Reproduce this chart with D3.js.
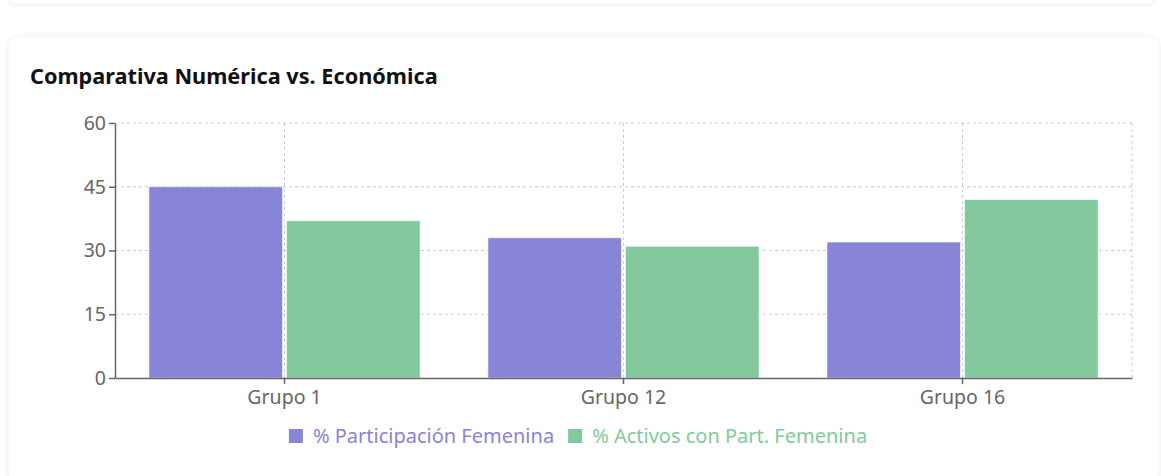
<!DOCTYPE html>
<html>
<head>
<meta charset="utf-8">
<script src="https://cdn.jsdelivr.net/npm/d3@7"></script>
<style>
  body { margin: 0; background: #fff; font-family: "Noto Sans", "Open Sans", sans-serif; }
  svg { display: block; }
</style>
</head>
<body>
<svg id="chart" width="1161" height="476"></svg>
<script>
var categories = ["Grupo 1", "Grupo 12", "Grupo 16"];
var seriesNames = ["% Participación Femenina", "% Activos con Part. Femenina"];
var participacion = [45, 33, 32];
var activos = [37, 31, 42];
var yTicks = [0, 15, 30, 45, 60];

var colors = ["#8884d8", "#82ca9d"];
var axis_color = "#666";
var grid_color = "#ccc";
var fontSize = 19.5;

var svg = d3.select("#chart");

// cards + shadow
var defs = svg.append("defs");
var f = defs.append("filter").attr("id", "shadow").attr("x", "-5%").attr("y", "-10%").attr("width", "110%").attr("height", "120%");
f.append("feDropShadow").attr("dx", 0).attr("dy", 1).attr("stdDeviation", 2).attr("flood-color", "#000").attr("flood-opacity", 0.08);

svg.append("rect")
    .attr("x", 8).attr("y", -40).attr("width", 1146).attr("height", 44)
    .attr("rx", 8).attr("fill", "#fff").attr("filter", "url(#shadow)");
svg.append("rect")
    .attr("x", 8).attr("y", 36).attr("width", 1151).attr("height", 446)
    .attr("rx", 10).attr("fill", "#fff").attr("stroke", "#f3f3f3").attr("filter", "url(#shadow)");

svg.append("text")
    .text("Comparativa Numérica vs. Económica")
    .attr("x", 30).attr("y", 84)
    .attr("font-size", 21.7)
    .attr("font-weight", "bold")
    .attr("fill", "#111");

// plot area
var margin_left = 115, margin_right = 1132, margin_top = 123, margin_bottom = 378;

var x0 = d3.scaleBand().domain(categories).range([margin_left, margin_right]).paddingInner(0).paddingOuter(0);
var y = d3.scaleLinear().domain([0, 60]).range([margin_bottom, margin_top]);

var bandW = x0.bandwidth();
var catGap = bandW * 0.1, barGap = 4;
var barW = (bandW - 2 * catGap - barGap) / 2;

// grid
var grid = svg.append("g");
yTicks.forEach(function(t){
    if(t == 0) return;
    grid.append("line")
        .attr("x1", margin_left).attr("x2", margin_right)
        .attr("y1", y(t)).attr("y2", y(t))
        .attr("stroke", grid_color).attr("stroke-dasharray", "3 3");
});
categories.forEach(function(c){
    var cx = x0(c) + bandW / 2;
    grid.append("line")
        .attr("x1", cx).attr("x2", cx)
        .attr("y1", margin_top).attr("y2", margin_bottom)
        .attr("stroke", grid_color).attr("stroke-dasharray", "3 3");
});
grid.append("line")
    .attr("x1", margin_right).attr("x2", margin_right)
    .attr("y1", margin_top).attr("y2", margin_bottom)
    .attr("stroke", grid_color).attr("stroke-dasharray", "3 3");

// bars
var series = [participacion, activos];
series.forEach(function(vals, s){
    svg.append("g").selectAll("rect")
        .data(vals)
        .enter()
        .append("rect")
        .attr("x", function(d, i){ return x0(categories[i]) + catGap + s * (barW + barGap); })
        .attr("y", function(d){ return y(d); })
        .attr("width", barW)
        .attr("height", function(d){ return margin_bottom - y(d); })
        .attr("fill", colors[s])
        .attr("stroke", "#fff")
        .attr("stroke-opacity", 0.6);
});

// axes
var yAxis = svg.append("g")
    .attr("transform", "translate(" + margin_left + ",0)")
    .call(d3.axisLeft(y).tickValues(yTicks).tickSizeInner(6).tickSizeOuter(0).tickPadding(3));
var xAxis = svg.append("g")
    .attr("transform", "translate(0," + margin_bottom + ")")
    .call(d3.axisBottom(x0).tickSizeInner(6).tickSizeOuter(0).tickPadding(6));

[yAxis, xAxis].forEach(function(a){
    a.select(".domain").attr("stroke", axis_color).attr("stroke-width", 1.5);
    a.selectAll(".tick line").attr("stroke", axis_color).attr("stroke-width", 1.5);
    a.selectAll(".tick text")
        .attr("fill", axis_color)
        .attr("font-size", fontSize)
        .attr("font-family", "\"Noto Sans\", sans-serif");
});

// legend
var legend = svg.append("g");
var lx = 0;
seriesNames.forEach(function(name, i){
    var g = legend.append("g");
    g.append("rect").attr("x", 0).attr("y", -7).attr("width", 14).attr("height", 14).attr("fill", colors[i]);
    var t = g.append("text").text(name)
        .attr("x", 24).attr("y", 0)
        .attr("dy", "0.35em")
        .attr("font-size", 20)
        .attr("fill", colors[i]);
    var w = 24 + t.node().getComputedTextLength();
    g.attr("transform", "translate(" + lx + ",0)");
    lx += w + 14;
});
lx -= 14;
legend.attr("transform", "translate(" + (578 - lx / 2) + ",436)");
</script>
</body>
</html>
